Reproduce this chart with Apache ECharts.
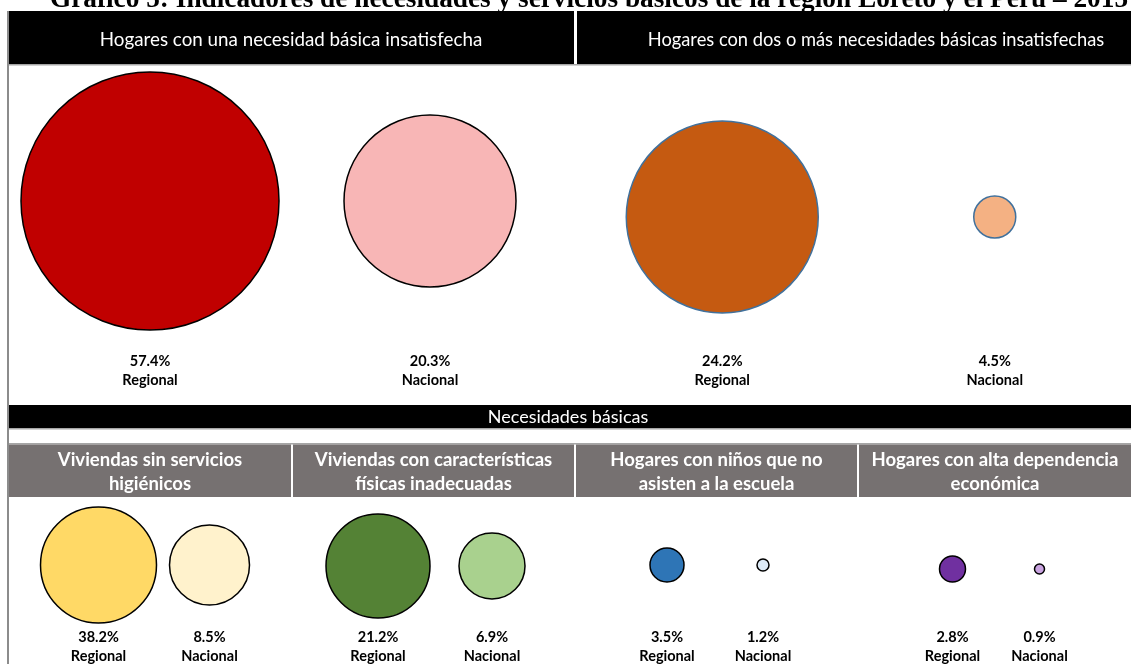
<!DOCTYPE html>
<html><head><meta charset="utf-8">
<script src="https://cdn.jsdelivr.net/npm/echarts@6/dist/echarts.min.js"></script>
<style>html,body{margin:0;padding:0;background:#fff}#c{width:1131px;height:664px}</style>
</head><body><div id="c"></div>
<script>
// ---------- data ----------
const chartTitle = 'Gráfico 5: Indicadores de necesidades y servicios básicos de la región Loreto y el Perú – 2015';
const sectionTitle = 'Necesidades básicas';
const groups = ['Regional', 'Nacional'];
const topTitles = ['Hogares con una necesidad básica insatisfecha', 'Hogares con dos o más necesidades básicas insatisfechas'];
const bottomTitles = ['Viviendas sin servicios\nhigiénicos', 'Viviendas con características\nfísicas inadecuadas', 'Hogares con niños que no\nasisten a la escuela', 'Hogares con alta dependencia\neconómica'];
const unaNBI = [57.4, 20.3];
const dosNBI = [24.2, 4.5];
const sinHigienicos = [38.2, 8.5];
const fisicasInadecuadas = [21.2, 6.9];
const ninosEscuela = [3.5, 1.2];
const altaDependencia = [2.8, 0.9];

// ---------- layout / style ----------
const FONT = 'Lato, "Open Sans", sans-serif';
const panels = [
  {vals: unaNBI, grid: {left: 10, width: 560, top: 70, height: 262}, margin: 20, colors: ['#C00000', '#F8B6B6'], border: '#000', bw: 1.5, size: [20.3, 57.4, 172, 258]},
  {vals: dosNBI, grid: {left: 586, width: 550, top: 100, height: 234}, margin: 18, colors: ['#C55A11', '#F4B183'], border: '#41719C', bw: 1.5, size: [4.5, 24.2, 42, 192]},
  {vals: sinHigienicos, grid: {left: 43, width: 222, top: 510, height: 112}, margin: 8, colors: ['#FFD966', '#FFF2CC'], border: '#000', bw: 1.5, size: [8.5, 38.2, 80, 116]},
  {vals: fisicasInadecuadas, grid: {left: 321, width: 228, top: 511, height: 112}, margin: 7, colors: ['#548235', '#A9D18E'], border: '#000', bw: 1.5, size: [6.9, 21.2, 66, 104]},
  {vals: ninosEscuela, grid: {left: 619, width: 192, top: 510, height: 112}, margin: 8, colors: ['#2E75B6', '#DEEBF7'], border: '#000', bw: 1.5, size: [1.2, 3.5, 12, 34]},
  {vals: altaDependencia, grid: {left: 909, width: 174, top: 514, height: 112}, margin: 4, colors: ['#7030A0', '#C9A3E0'], border: '#000', bw: 1.5, size: [0.9, 2.8, 10, 26]}
];
function sizeOf(p, v) {
  const [v0, v1, d0, d1] = p.size;
  return d0 + (v - v0) * (d1 - d0) / (v1 - v0);
}
const fmt = v => v.toFixed(1) + '%';

const grids = [], xAxes = [], yAxes = [], series = [];
panels.forEach((p, i) => {
  grids.push(Object.assign({containLabel: false}, p.grid));
  xAxes.push({
    type: 'category', gridIndex: i, data: groups,
    axisLine: {show: false}, axisTick: {show: false}, splitLine: {show: false},
    axisLabel: {
      margin: p.margin, interval: 0,
      formatter: (val, idx) => '{v|' + fmt(p.vals[idx]) + '}\n{c|' + val + '}',
      rich: {
        v: {fontFamily: FONT, fontWeight: 'bold', fontSize: 14.5, color: '#000', lineHeight: 19},
        c: {fontFamily: FONT, fontWeight: 'bold', fontSize: 14.5, color: '#000', lineHeight: 19}
      }
    }
  });
  yAxes.push({type: 'value', gridIndex: i, min: -1, max: 1, show: false});
  series.push({
    type: 'scatter', xAxisIndex: i, yAxisIndex: i, clip: false, silent: true,
    data: p.vals.map((v, j) => ({
      value: [groups[j], 0],
      symbolSize: sizeOf(p, v),
      itemStyle: {color: p.colors[j], borderColor: p.border, borderWidth: p.bw, opacity: 1}
    }))
  });
});

const W = 1131;
const graphics = [
  // title (top partially cut as in source)
  {type: 'text', x: 589, y: 13, style: {text: chartTitle, fontFamily: '"Liberation Serif", "Times New Roman", serif', fontWeight: 'bold', fontSize: 27.3, fill: '#000', textAlign: 'center', textVerticalAlign: 'bottom'}},
  // left border
  {type: 'rect', shape: {x: 7, y: 11, width: 2, height: 653}, style: {fill: '#8c8c8c'}},
  // top header bars
  {type: 'rect', shape: {x: 9, y: 11, width: 565, height: 53}, style: {fill: '#000'}},
  {type: 'rect', shape: {x: 577, y: 11, width: W - 577, height: 53}, style: {fill: '#000'}},
  {type: 'rect', shape: {x: 9, y: 64, width: W - 9, height: 1.5}, style: {fill: '#a6a6a6'}},
  {type: 'text', x: 291, y: 40, style: {text: topTitles[0], fontFamily: FONT, fontSize: 18.8, fill: '#fff', textAlign: 'center', textVerticalAlign: 'middle'}},
  {type: 'text', x: 876, y: 40, style: {text: topTitles[1], fontFamily: FONT, fontSize: 18.3, fill: '#fff', textAlign: 'center', textVerticalAlign: 'middle'}},
  // section bar
  {type: 'rect', shape: {x: 9, y: 405, width: W - 9, height: 23}, style: {fill: '#000'}},
  {type: 'rect', shape: {x: 9, y: 428, width: W - 9, height: 1.5}, style: {fill: '#a6a6a6'}},
  {type: 'text', x: 568, y: 417, style: {text: sectionTitle, fontFamily: FONT, fontSize: 18, fill: '#fff', textAlign: 'center', textVerticalAlign: 'middle'}},
  {type: 'rect', shape: {x: 9, y: 443, width: W - 9, height: 1.5}, style: {fill: '#a6a6a6'}}
];
const cells = [[9, 291], [293, 574], [576, 857], [859, W]];
cells.forEach((c, i) => {
  graphics.push({type: 'rect', shape: {x: c[0], y: 444.5, width: c[1] - c[0], height: 52.5}, style: {fill: '#767171'}});
  graphics.push({type: 'text', x: (c[0] + c[1]) / 2, y: 472, style: {text: bottomTitles[i], fontFamily: FONT, fontWeight: 'bold', fontSize: 18.5, lineHeight: 24, fill: '#fff', textAlign: 'center', textVerticalAlign: 'middle'}});
});
graphics.push({type: 'rect', shape: {x: 9, y: 497, width: W - 9, height: 1.5}, style: {fill: '#fff'}});

const chart = echarts.init(document.getElementById('c'), null, {renderer: 'canvas'});
chart.setOption({
  animation: false,
  backgroundColor: '#fff',
  grid: grids, xAxis: xAxes, yAxis: yAxes, series: series,
  graphic: {elements: graphics}
});
</script></body></html>
